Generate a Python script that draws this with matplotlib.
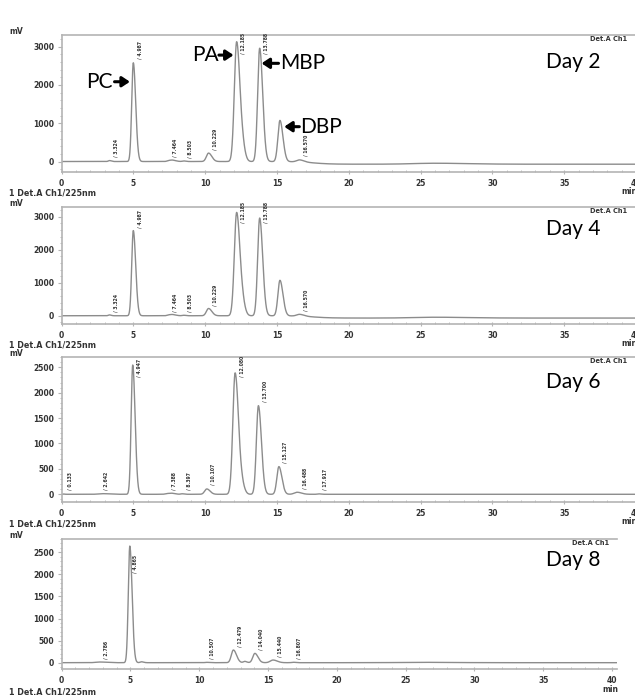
import numpy as np
import matplotlib
matplotlib.use("Agg")
import matplotlib.pyplot as plt
from matplotlib.ticker import MultipleLocator
from matplotlib import font_manager

W, H = 635, 695

# ---------------- data (peak tables) ----------------
# Day 2 and Day 4 (same chromatogram)
day2_rt = [3.324, 4.987, 7.464, 7.75, 8.503, 10.229, 12.185, 12.65, 13.788, 15.20, 16.570, 26.0]
day2_height = [25, 2580, 25, 30, 15, 220, 3130, 180, 2960, 1075, 55, 25]
day2_width = [0.08, 0.11, 0.12, 0.15, 0.10, 0.15, 0.16, 0.12, 0.14, 0.14, 0.20, 1.5]
day2_labels = ["3.324", "4.987", "7.464", "8.503", "10.229", "12.185", "13.788", "16.570"]
day2_drift = -70

day4_rt = list(day2_rt)
day4_height = list(day2_height)
day4_width = list(day2_width)
day4_labels = list(day2_labels)
day4_drift = -70

day6_rt = [0.133, 2.9, 4.947, 7.388, 7.7, 8.397, 10.107, 12.080, 12.60, 13.700, 15.127, 16.40, 17.917]
day6_height = [5, 12, 2545, 15, 15, 10, 105, 2390, 110, 1745, 545, 40, 8]
day6_width = [0.05, 0.30, 0.11, 0.15, 0.15, 0.10, 0.15, 0.16, 0.12, 0.14, 0.14, 0.20, 0.10]
day6_labels = ["0.133", "2.642", "4.947", "7.388", "8.397", "10.107", "12.080", "13.700",
               "15.127", "16.488", "17.917"]
day6_drift = 0

day8_rt = [2.786, 4.95, 5.8, 10.507, 12.479, 13.3, 14.040, 15.36, 16.807, 26.0]
day8_height = [15, 2640, 20, 8, 287, 30, 211, 60, 10, 8]
day8_width = [0.30, 0.11, 0.10, 0.10, 0.15, 0.10, 0.15, 0.20, 0.10, 1.5]
day8_labels = ["2.786", "4.865", "10.507", "12.479", "14.040", "15.440", "16.807"]
day8_drift = 0

day_names = ["Day 2", "Day 4", "Day 6", "Day 8"]

# ---------------- layout (pixel geometry of the four panels) ----------------
panels = [
    dict(rt=day2_rt, h=day2_height, w=day2_width, lab=day2_labels, drift=day2_drift,
         top=35, bottom=171.7, right=636, xmax=40.0, ylim=(-266, 3305),
         minor=200, yticks=[0, 1000, 2000, 3000], day_y=62, det_x=590, mv_y=31,
         min_x=621),
    dict(rt=day4_rt, h=day4_height, w=day4_width, lab=day4_labels, drift=day4_drift,
         top=207, bottom=324, right=636, xmax=40.0, ylim=(-250, 3294),
         minor=200, yticks=[0, 1000, 2000, 3000], day_y=229, det_x=590, mv_y=203,
         min_x=621),
    dict(rt=day6_rt, h=day6_height, w=day6_width, lab=day6_labels, drift=day6_drift,
         top=357, bottom=501.7, right=636, xmax=40.0, ylim=(-146, 2703),
         minor=100, yticks=[0, 500, 1000, 1500, 2000, 2500], day_y=382, det_x=590,
         mv_y=353, min_x=621),
    dict(rt=day8_rt, h=day8_height, w=day8_width, lab=day8_labels, drift=day8_drift,
         top=539, bottom=669, right=617, xmax=40.36, ylim=(-143, 2800),
         minor=100, yticks=[0, 500, 1000, 1500, 2000, 2500], day_y=560, det_x=572,
         mv_y=535, min_x=602),
]
det_label_y = [193, 345, 524, 692]

LEFT = 61.7
CURVE = "#8c8c8c"
SPINE = "#b4b4b4"
TXT = "#333333"

installed = {f.name for f in font_manager.fontManager.ttflist}
RT_FONT = "Liberation Sans Narrow" if "Liberation Sans Narrow" in installed else "DejaVu Sans"
RT_SIZE = 4.0 if RT_FONT == "Liberation Sans Narrow" else 3.3


def fx(px):
    return px / W


def fy(py):
    return 1 - py / H


def chromatogram(t, rts, hs, ws, drift):
    y = np.zeros_like(t)
    for rt, h, s in zip(rts, hs, ws):
        sd = np.where(t < rt, s, s * 1.5)
        y += h * np.exp(-0.5 * ((t - rt) / sd) ** 2)
    y += drift * 0.5 * (1 + np.tanh((t - 17.5) / 1.2))
    return y


fig = plt.figure(figsize=(W / 100, H / 100), dpi=100)
fig.patch.set_facecolor("white")

t = np.linspace(0, 40.5, 8000)
axes = []
for i, p in enumerate(panels):
    ax = fig.add_axes([fx(LEFT), fy(p["bottom"]), (p["right"] - LEFT) / W,
                       (p["bottom"] - p["top"]) / H])
    axes.append(ax)
    y = chromatogram(t, p["rt"], p["h"], p["w"], p["drift"])
    ax.plot(t, y, color=CURVE, lw=1.0)
    ax.set_xlim(0, p["xmax"])
    ax.set_ylim(*p["ylim"])
    ax.set_yticks(p["yticks"])
    ax.set_xticks([0, 5, 10, 15, 20, 25, 30, 35, 40])
    ax.xaxis.set_minor_locator(MultipleLocator(1))
    ax.yaxis.set_minor_locator(MultipleLocator(p["minor"]))
    for s in ["top", "left", "bottom"]:
        ax.spines[s].set_color(SPINE)
        ax.spines[s].set_linewidth(1.2)
    ax.spines["right"].set_visible(False)
    ax.tick_params(axis="y", which="major", length=3, width=0.8, color=SPINE, pad=2.5,
                   labelsize=5.5, labelcolor=TXT)
    ax.tick_params(axis="y", which="minor", length=1.5, width=0.6, color=SPINE)
    ax.tick_params(axis="x", which="major", direction="inout", length=3.5, width=0.8,
                   color=SPINE, pad=3.2, labelsize=5.5, labelcolor=TXT)
    ax.tick_params(axis="x", which="minor", direction="in", length=1.8, width=0.6, color=SPINE)
    for lab in ax.get_xticklabels() + ax.get_yticklabels():
        lab.set_fontweight("bold")

    # retention-time labels
    lo, hi = p["ylim"]
    rng = hi - lo
    cap = hi - 0.14 * rng
    for s in p["lab"]:
        rt = float(s)
        yv = float(chromatogram(np.array([rt]), p["rt"], p["h"], p["w"], p["drift"])[0])
        yb = min(max(yv, 0) + 0.025 * rng, cap)
        ax.text(rt + 0.45, yb, "/ " + s, rotation=90, ha="center", va="bottom",
                fontsize=RT_SIZE, fontweight="bold", color=TXT, family=RT_FONT)

    # day label
    fig.text(fx(573), fy(p["day_y"]), day_names[i], ha="center", va="center",
             fontsize=15, family="Lato", color="black")
    # detector label at top right
    fig.text(fx(p["det_x"]), fy(p["top"] + 4), "Det.A Ch1", ha="left", va="center",
             fontsize=4.8, fontweight="bold", color=TXT)
    # mV unit
    fig.text(fx(9), fy(p["mv_y"]), "mV", ha="left", va="center", fontsize=5.5,
             fontweight="bold", color=TXT)
    # min unit
    fig.text(fx(p["min_x"]), fy(p["bottom"] + 20), "min", ha="left", va="center",
             fontsize=5.5, fontweight="bold", color=TXT)
    # detector / wavelength label under the panel
    fig.text(fx(9), fy(det_label_y[i]), "1 Det.A Ch1/225nm", ha="left", va="center",
             fontsize=5.8, fontweight="bold", color=TXT)

# compound annotations on the first panel
ax0 = axes[0]
arrow = dict(arrowstyle="-|>,head_length=0.45,head_width=0.3", lw=2.2, color="black",
             shrinkA=0, shrinkB=0, mutation_scale=10)
ax0.text(3.55, 2084, "PC", ha="right", va="center", fontsize=15, family="Lato")
ax0.annotate("", xy=(4.75, 2084), xytext=(3.68, 2084), arrowprops=arrow)
ax0.text(10.92, 2780, "PA", ha="right", va="center", fontsize=15, family="Lato")
ax0.annotate("", xy=(11.97, 2780), xytext=(10.95, 2780), arrowprops=arrow)
ax0.text(15.2, 2565, "MBP", ha="left", va="center", fontsize=15, family="Lato")
ax0.annotate("", xy=(13.92, 2565), xytext=(15.1, 2565), arrowprops=arrow)
ax0.text(16.6, 910, "DBP", ha="left", va="center", fontsize=15, family="Lato")
ax0.annotate("", xy=(15.5, 910), xytext=(16.55, 910), arrowprops=arrow)

fig.savefig("out.png", dpi=100, facecolor="white")
